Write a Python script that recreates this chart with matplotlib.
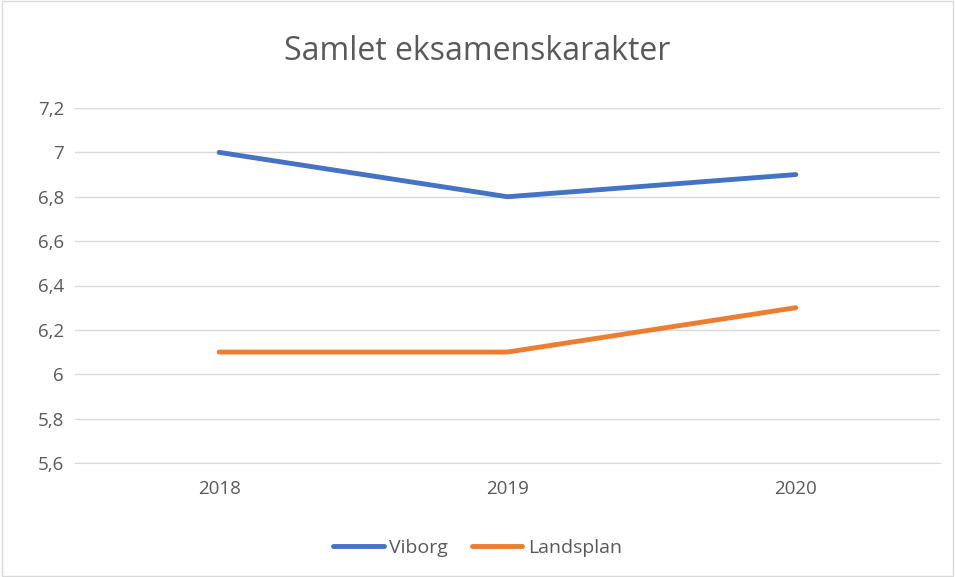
import matplotlib.pyplot as plt
from matplotlib.patches import Rectangle

years = ["2018", "2019", "2020"]
viborg = [7.0, 6.8, 6.9]
landsplan = [6.1, 6.1, 6.3]
yticks = [5.6, 5.8, 6.0, 6.2, 6.4, 6.6, 6.8, 7.0, 7.2]

plt.rcParams['font.family'] = ['Open Sans', 'DejaVu Sans']

fig = plt.figure(figsize=(9.55, 5.77), dpi=100)
ax = fig.add_axes([75 / 955, 1 - 463 / 577, 865 / 955, 355 / 577])

x = range(len(years))
ax.plot(x, viborg, color="#4472C4", lw=3.5, label="Viborg", solid_capstyle="round")
ax.plot(x, landsplan, color="#ED7D31", lw=3.5, label="Landsplan", solid_capstyle="round")

ax.set_xlim(-0.5, 2.5)
ax.set_ylim(5.6, 7.2)
ax.set_xticks(list(x))
ax.set_xticklabels(years)
ax.set_yticks(yticks)
ax.set_yticklabels([f"{v:g}".replace(".", ",") for v in yticks])
ax.grid(axis="y", color="#D9D9D9", lw=1)
ax.set_axisbelow(True)
for side in ["top", "right", "left"]:
    ax.spines[side].set_visible(False)
ax.spines["bottom"].set_color("#D9D9D9")
ax.tick_params(length=0, labelsize=13.5, colors="#595959")
ax.tick_params(axis="x", pad=12)
ax.tick_params(axis="y", pad=8)

fig.text(0.5, 1 - 52 / 577, "Samlet eksamenskarakter", ha="center", va="center",
         fontsize=23, color="#595959")

fig.legend(loc="center", bbox_to_anchor=(0.5, 1 - 548 / 577), ncol=2, frameon=False,
           fontsize=14, labelcolor="#595959", handlelength=2.6, columnspacing=1.2,
           handletextpad=0.3)

fig.patches.append(Rectangle((0.002, 0.002), 0.996, 0.996, transform=fig.transFigure,
                             fill=False, edgecolor="#D9D9D9", lw=1))

fig.savefig("out.png", dpi=100)
